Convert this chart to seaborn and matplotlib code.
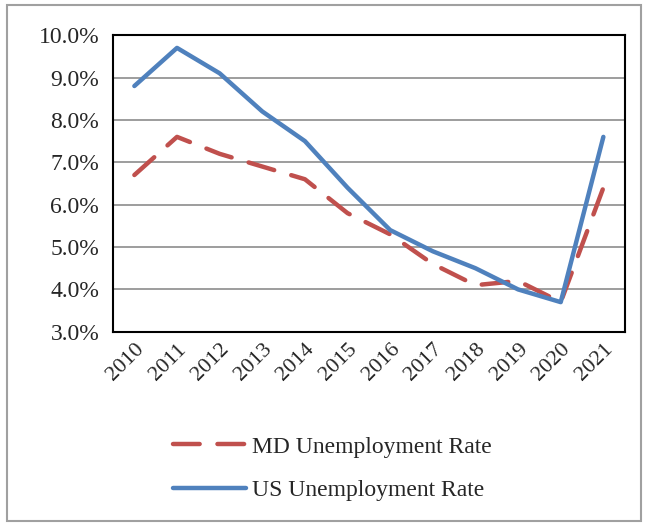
import matplotlib
matplotlib.use("Agg")
import matplotlib.pyplot as plt
import seaborn as sns
import pandas as pd
from matplotlib.patches import Rectangle
from matplotlib.ticker import FuncFormatter

years = ["2010", "2011", "2012", "2013", "2014", "2015", "2016", "2017", "2018", "2019", "2020", "2021"]
md_rate = [6.7, 7.6, 7.2, 6.9, 6.6, 5.8, 5.3, 4.6, 4.1, 4.2, 3.7, 6.4]
us_rate = [8.8, 9.7, 9.1, 8.2, 7.5, 6.4, 5.4, 4.9, 4.5, 4.0, 3.7, 7.6]
series_names = ["MD Unemployment Rate", "US Unemployment Rate"]

sns.set_style("white")
plt.rcParams['font.family'] = ['Liberation Serif', 'DejaVu Serif']

fig = plt.figure(figsize=(6.46, 5.25), dpi=100)
ax = fig.add_axes([0.175, 0.368, 0.792, 0.565])

x = list(range(len(years)))
md_df = pd.DataFrame({"x": x, "rate": md_rate})
us_df = pd.DataFrame({"x": x, "rate": us_rate})

red = "#C0504D"
blue = "#4F81BD"

sns.lineplot(data=md_df, x="x", y="rate", ax=ax, color=red, linewidth=3.2,
             label=series_names[0])
sns.lineplot(data=us_df, x="x", y="rate", ax=ax, color=blue, linewidth=3.2,
             label=series_names[1])
ax.lines[0].set_dashes((6, 4))
ax.lines[0].set_dash_capstyle('round')

ax.set_xlim(-0.5, len(years) - 0.5)
ax.set_ylim(3.0, 10.0)
ax.set_yticks([3, 4, 5, 6, 7, 8, 9, 10])
ax.yaxis.set_major_formatter(FuncFormatter(lambda v, p: f"{v:.1f}%"))
ax.set_xticks(x)
ax.set_xticklabels(years, rotation=45, ha='right', rotation_mode='anchor')
ax.tick_params(axis='y', labelsize=17, length=0, pad=10)
ax.tick_params(axis='x', labelsize=16, length=0, pad=6)
ax.set_xlabel("")
ax.set_ylabel("")
ax.grid(axis='y', color='#8c8c8c', linewidth=1.2)
ax.set_axisbelow(True)
for s in ax.spines.values():
    s.set_visible(True)
    s.set_color('black')
    s.set_linewidth(1.5)

ax.get_legend().remove()
handles, labels = ax.get_legend_handles_labels()
leg = fig.legend(handles, labels, loc='upper left', bbox_to_anchor=(0.235, 0.21),
                 frameon=False, fontsize=17, handlelength=3.1, handletextpad=0.25,
                 labelspacing=0.95)
leg.get_lines()[0].set_dashes((6, 4))
leg.get_lines()[0].set_dash_capstyle('round')

fig.patches.append(Rectangle((0.011, 0.008), 0.982, 0.982, transform=fig.transFigure,
                             fill=False, edgecolor='#a0a0a0', linewidth=1.5))

fig.savefig("out.png", dpi=100)
